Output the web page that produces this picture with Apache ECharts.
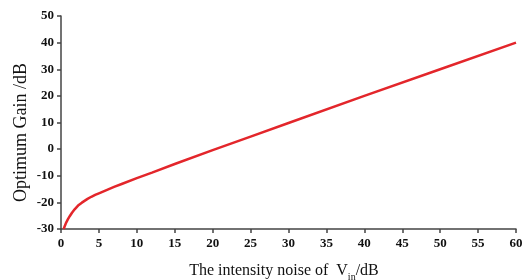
<!DOCTYPE html>
<html>
<head>
<meta charset="utf-8">
<script src="https://cdn.jsdelivr.net/npm/echarts@6/dist/echarts.min.js"></script>
<style>
  html, body { margin: 0; padding: 0; background: #fff; }
  #chart { width: 528px; height: 280px; }
</style>
</head>
<body>
<div id="chart"></div>
<script>
// noise level (dB) and gain
const noiseDb = [0.35, 0.4, 0.5, 0.6, 0.7, 0.8, 0.9, 1, 1.15, 1.3, 1.45, 1.6, 1.8, 2, 2.25, 2.5, 2.75, 3, 3.5, 4, 4.5, 5, 6, 7, 8, 10, 12, 15, 20, 25, 30, 40, 50, 60];
const gainDb = [-30, -29.7, -28.9, -28.2, -27.5, -26.9, -26.4, -25.9, -25.2, -24.5, -23.9, -23.3, -22.6, -21.9, -21.2, -20.6, -20.1, -19.6, -18.7, -17.9, -17.2, -16.6, -15.4, -14.2, -13.1, -10.9, -8.8, -5.6, -0.4, 4.7, 9.8, 20, 30, 40];

const axisColor = '#444';
const font = 'Liberation Serif';

const myChart = echarts.init(document.getElementById('chart'));
const option = {
  animation: false,
  grid: { left: 61, right: 12, top: 16, bottom: 51, outerBoundsMode: 'none' },
  xAxis: {
    type: 'value',
    min: 0, max: 60, interval: 5,
    name: '{n|The intensity noise of  V}{s|in}{n|/dB}',
    nameLocation: 'middle',
    nameGap: 31,
    nameTextStyle: {
      padding: [0, 9, 0, 0],
      rich: {
        n: { fontFamily: font, fontSize: 16, color: '#111' },
        s: { fontFamily: font, fontSize: 10, color: '#111', padding: [12, 0, 0, 0] }
      }
    },
    axisLine: { onZero: false, lineStyle: { color: axisColor, width: 1.5 } },
    axisTick: { length: 4, lineStyle: { color: axisColor, width: 1.5 } },
    axisLabel: { fontFamily: font, fontWeight: 'bold', fontSize: 13, color: '#111', margin: 8 },
    splitLine: { show: false }
  },
  yAxis: {
    type: 'value',
    min: -30, max: 50, interval: 10,
    name: 'Optimum Gain /dB',
    nameLocation: 'middle',
    nameMoveOverlap: false,
    nameGap: 31,
    nameTextStyle: { fontFamily: font, fontSize: 18, color: '#111', padding: [0, 20, 0, 0] },
    axisLine: { show: true, onZero: false, lineStyle: { color: axisColor, width: 1.5 } },
    axisTick: { show: true, length: 4, lineStyle: { color: axisColor, width: 1.5 } },
    axisLabel: { fontFamily: font, fontWeight: 'bold', fontSize: 13, color: '#111', margin: 7 },
    splitLine: { show: false }
  },
  series: [{
    type: 'line',
    data: noiseDb.map((x, i) => [x, gainDb[i]]),
    showSymbol: false,
    lineStyle: { color: '#e3262b', width: 2.5 }
  }]
};
option && myChart.setOption(option);
</script>
</body>
</html>
